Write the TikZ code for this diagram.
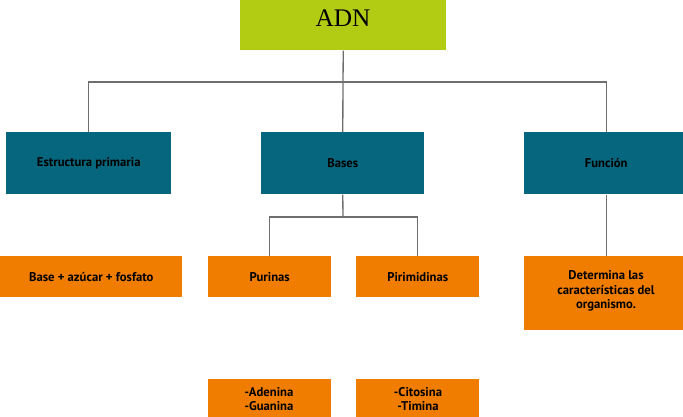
\documentclass[tikz,border=0pt]{standalone}
\usepackage{fontspec}
\setmainfont{PT Sans}
\begin{document}
\begin{tikzpicture}[x=0.75pt,y=-0.75pt,
  w/.style={minimum width=#1*0.75pt},
  h/.style={minimum height=#1*0.75pt},
  box/.style={draw=none,inner sep=0pt,font=\bfseries\fontsize{9.5}{11}\selectfont,align=center,text=black},
  teal/.style={box,fill={rgb,255:red,5;green,102;blue,125}},
  orange/.style={box,fill={rgb,255:red,240;green,125;blue,0}},
  line/.style={draw={rgb,255:red,110;green,110;blue,110},line width=1pt}]
\useasboundingbox (0,0) rectangle (683,417);
\node[box,fill={rgb,255:red,178;green,204;blue,20},w=206,h=50,anchor=north west] (adn) at (240,0) {};
\node at (343,18) {\fontspec{Liberation Serif}\fontsize{19}{22}\selectfont ADN};
\node[teal,w=165,h=62,anchor=north west] (ep) at (6,132) {Estructura primaria};
\node[teal,w=163,h=62,anchor=north west] (bases) at (261,132) {Bases};
\node[teal,w=164,h=62,anchor=north west] (fun) at (524,132) {Función};
\node[orange,w=182,h=41,anchor=north west] (baf) at (0,256) {Base + azúcar + fosfato};
\node[orange,w=123,h=41,anchor=north west] (pur) at (208,256) {Purinas};
\node[orange,w=123,h=41,anchor=north west] (pir) at (356,256) {Pirimidinas};
\node[orange,w=164,h=74,anchor=north west] (det) at (524,256) {};
\node[box] at (606,291) {Determina las\\características del\\organismo.};
\node[orange,w=123,h=40,anchor=north west] (ag) at (208,379) {};
\node[box] at (269,399) {-Adenina\\-Guanina};
\node[orange,w=123,h=40,anchor=north west] (ct) at (356,379) {};
\node[box] at (418,399) {-Citosina\\-Timina};
\coordinate (j1) at (343,82);
\coordinate (j2) at (343,217);
\draw[line] (adn.south) -- (j1);
\draw[line] (ep.north) |- (j1) -| (fun.north);
\draw[line] (j1) -- (bases.north);
\draw[line] (bases.south) -- (j2);
\draw[line] (pur.north) |- (j2) -| (pir.north);
\draw[line] (fun.south) -- (det.north);
\end{tikzpicture}
\end{document}
